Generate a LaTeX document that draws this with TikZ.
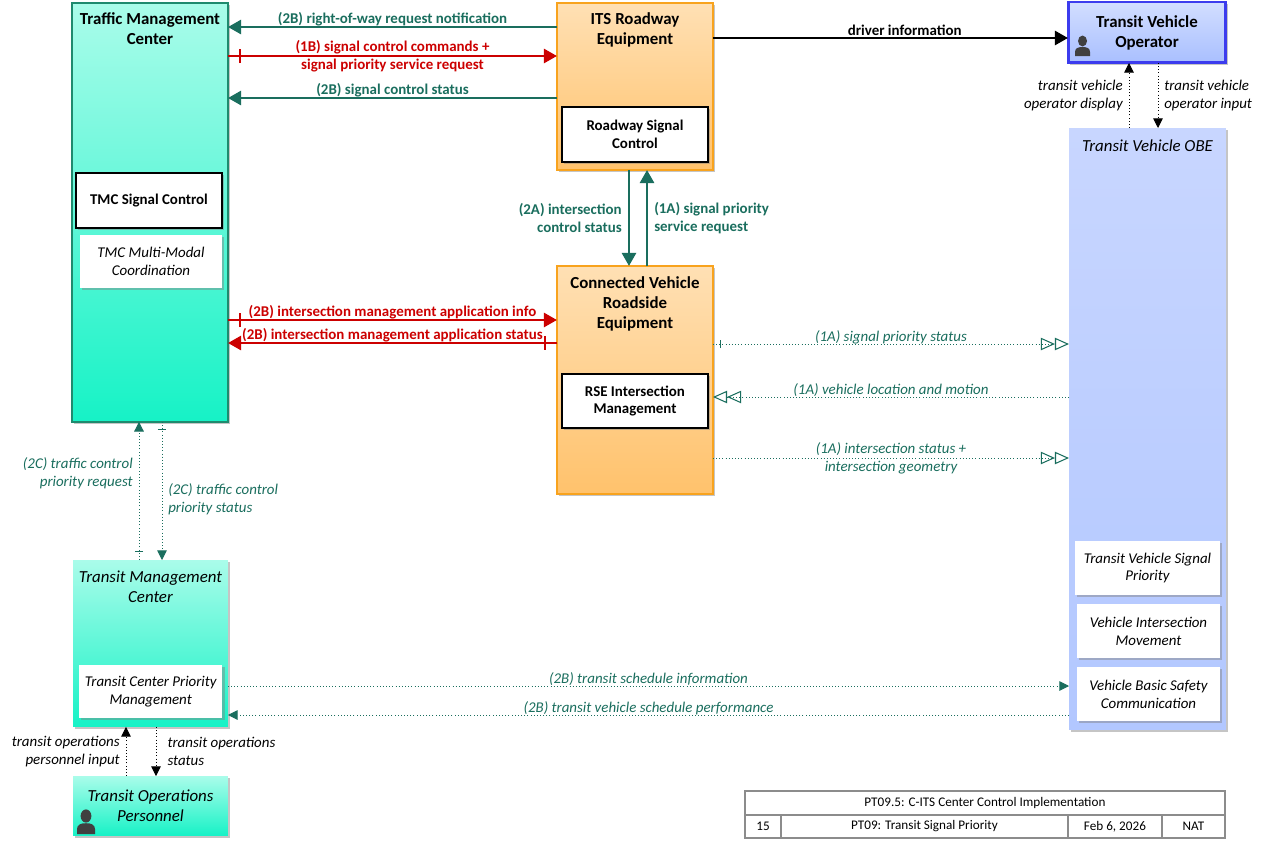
\documentclass[tikz,border=0pt]{standalone}
\usepackage{fontspec}
\setmainfont{Carlito}
\usetikzlibrary{positioning,arrows.meta,shadows,decorations.markings}

\definecolor{flowteal}{HTML}{1A6E5E}
\definecolor{flowred}{HTML}{CC0000}
\definecolor{aquatop}{HTML}{AAFCEA}
\definecolor{aquabot}{HTML}{16F2C6}
\definecolor{tmcline}{HTML}{1F8A6E}
\definecolor{orangetop}{HTML}{FFE0B4}
\definecolor{orangebot}{HTML}{FFC26C}
\definecolor{orangeline}{HTML}{F8A31E}
\definecolor{bluetop}{HTML}{D2DEFF}
\definecolor{bluebot}{HTML}{A9BFFF}
\definecolor{blueline}{HTML}{3C3CEE}
\definecolor{obetop}{HTML}{C8D6FF}
\definecolor{obebot}{HTML}{B2C7FF}

\newcommand{\boxfont}{\fontsize{9.6}{11.3}\selectfont}
\newcommand{\flowfont}{\fontsize{8.5}{10.2}\selectfont}

\begin{document}
\begin{tikzpicture}
[
x=0.02cm, y=-0.02cm,
boxshadow/.style={drop shadow={shadow xshift=1.3pt, shadow yshift=-1.3pt, fill=black!50, opacity=0.45}},
aquabox/.style={boxshadow, top color=aquatop, bottom color=aquabot, anchor=north west, outer sep=0},
tmcbox/.style={aquabox, draw=tmcline, line width=1.6pt},
orangebox/.style={boxshadow, top color=orangetop, bottom color=orangebot, draw=orangeline, line width=1.6pt, anchor=north west, outer sep=0},
operatorbox/.style={boxshadow, top color=bluetop, bottom color=bluebot, draw=blueline, line width=1.7pt, anchor=north west, outer sep=0, font=\boxfont\bfseries, align=center},
obebox/.style={boxshadow, top color=obetop, bottom color=obebot, anchor=north west, outer sep=0},
boxtitle/.style={align=center, inner sep=0},
ctrlbox/.style={boxshadow, fill=white, draw=black, line width=1.6pt, font=\flowfont\bfseries, align=center, anchor=north west, outer sep=0},
funcbox/.style={boxshadow, fill=white, font=\flowfont\itshape, align=center, anchor=north west, outer sep=0},
tbcell/.style={fill=white, draw=black!45, line width=0.7pt, font=\fontsize{7.5}{9}\selectfont, inner sep=0, outer sep=0},
bigflow/.style={line width=1.6pt, -{Triangle[length=7.5pt,width=8pt]}},
tealflow/.style={bigflow, color=flowteal},
redflow/.style={bigflow, color=flowred},
flowlbl/.style={font=\flowfont\bfseries, align=center},
dotflow/.style={color=flowteal, line width=0.5pt, dash pattern=on 0.5pt off 1.3pt},
dotarrow/.style={dotflow, -{Triangle[length=5.5pt,width=5.5pt]}},
dotopen/.style={dotflow, -{Triangle[open,length=8pt,width=7pt,line width=0.6pt]Triangle[open,length=8pt,width=7pt,line width=0.6pt]}},
userflow/.style={black, line width=0.5pt, dash pattern=on 0.5pt off 1.3pt, -{Triangle[length=5.5pt,width=5.5pt]}},
dotlbl/.style={font=\flowfont\itshape},
startbar/.style 2 args={postaction={decorate, decoration={markings, mark=at position #1 with {\draw[-, solid] (0,-#2) -- (0,#2);}}}},
person icon/.pic={
  \fill[black!75] (0,-15) ellipse [x radius=4.5, y radius=5.5];
  \fill[black!75] (-7.5,0) -- (-7.5,-4) .. controls (-7.5,-8) and (-4,-9) .. (0,-9)
    .. controls (4,-9) and (7.5,-8) .. (7.5,-4) -- (7.5,0) -- cycle;
}
]
\useasboundingbox[fill=white] (0,0) rectangle (1261,842);

\node[tmcbox, minimum width=3.12cm, minimum height=8.38cm] (tmc) at (72,3) {};
\node[boxtitle, font=\boxfont\bfseries, below=5.5pt of tmc.north] (tmctitle) {Traffic Management\\Center};
\node[ctrlbox, minimum width=2.92cm, minimum height=1.10cm] (tmcsig) at (76,173) {TMC Signal Control};
\node[funcbox, minimum width=2.84cm, minimum height=1.06cm] (tmcmm) at (80,235) {TMC Multi-Modal\\Coordination};

\node[orangebox, minimum width=3.12cm, minimum height=3.34cm] (itsre) at (557,3) {};
\node[boxtitle, font=\boxfont\bfseries, below=5.5pt of itsre.north] (itstitle) {ITS Roadway\\Equipment};
\node[ctrlbox, minimum width=2.92cm, minimum height=1.10cm] (rsc) at (562,107) {Roadway Signal\\Control};

\node[orangebox, minimum width=3.12cm, minimum height=4.56cm] (cvrse) at (557,266) {};
\node[boxtitle, font=\boxfont\bfseries, below=6pt of cvrse.north] (cvtitle) {Connected Vehicle\\Roadside\\Equipment};
\node[ctrlbox, minimum width=2.92cm, minimum height=1.08cm] (rseim) at (562,374) {RSE Intersection\\Management};

\node[operatorbox, minimum width=3.16cm, minimum height=1.22cm] (tvo) at (1068,2) {Transit Vehicle\\Operator};
\pic (tvoicon) at (1082.5,56) {person icon};

\node[obebox, minimum width=3.14cm, minimum height=12.04cm] (obe) at (1069,128) {};
\node[boxtitle, font=\boxfont\itshape, below=6.5pt of obe.north] (obetitle) {Transit Vehicle OBE};
\node[funcbox, minimum width=2.90cm, minimum height=1.08cm] (tvsp) at (1075,541) {Transit Vehicle Signal\\Priority};
\node[funcbox, minimum width=2.86cm, minimum height=1.08cm] (vim) at (1077,604) {Vehicle Intersection\\Movement};
\node[funcbox, minimum width=2.86cm, minimum height=1.08cm] (vbsc) at (1077,667) {Vehicle Basic Safety\\Communication};

\node[aquabox, minimum width=3.10cm, minimum height=3.34cm] (tranmc) at (73,560) {};
\node[boxtitle, font=\boxfont\itshape, below=6pt of tranmc.north] (tranmctitle) {Transit Management\\Center};
\node[funcbox, minimum width=2.86cm, minimum height=1.06cm] (tcpm) at (79,665) {Transit Center Priority\\Management};

\node[aquabox, minimum width=3.10cm, minimum height=1.20cm, font=\boxfont\itshape, align=center] (topers) at (73,776) {Transit Operations\\Personnel};
\pic[scale=1.2] (topicon) at (86,834) {person icon};

\draw[tealflow] (itsre.west |- 0,27) -- node[flowlbl, above, inner sep=0pt] {(2B) right-of-way request notification} (tmc.east |- 0,27);
\draw[redflow, startbar={6.8pt}{4pt}] (tmc.east |- 0,56) -- node[flowlbl] {(1B) signal control commands +\\signal priority service request} (itsre.west |- 0,56);
\draw[tealflow] (itsre.west |- 0,98) -- node[flowlbl, above, inner sep=0pt] {(2B) signal control status} (tmc.east |- 0,98);
\draw[bigflow, black] (itsre.east |- 0,38) -- node[flowlbl, above, pos=0.54, inner sep=0.5pt] {driver information} (tvo.west |- 0,38);

\draw[tealflow] (itsre.south -| 629,0) -- node[flowlbl, left, align=right] {(2A) intersection\\control status} (cvrse.north -| 629,0);
\draw[tealflow] (cvrse.north -| 647,0) -- node[flowlbl, right, align=left] {(1A) signal priority\\service request} (itsre.south -| 647,0);

\draw[redflow, startbar={6.8pt}{4pt}] (tmc.east |- 0,320) -- node[flowlbl, above, inner sep=0pt] {(2B) intersection management application info} (cvrse.west |- 0,320);
\draw[redflow, startbar={6.8pt}{4pt}] (cvrse.west |- 0,343) -- node[flowlbl, above, inner sep=0pt] {(2B) intersection management application status} (tmc.east |- 0,343);

\draw[dotopen, startbar={4pt}{2.3pt}] (cvrse.east |- 0,344) -- node[dotlbl, above, inner sep=0pt] {(1A) signal priority status} (obe.west |- 0,344);
\draw[dotopen] (obe.west |- 0,397) -- node[dotlbl, above, inner sep=0pt] {(1A) vehicle location and motion} (cvrse.east |- 0,397);
\draw[dotopen] (cvrse.east |- 0,458) -- node[dotlbl, align=center] {(1A) intersection status +\\intersection geometry} (obe.west |- 0,458);

\draw[dotarrow, startbar={5pt}{2.3pt}] (tranmc.north -| 139,0) -- node[dotlbl, left, align=right, pos=0.63] {(2C) traffic control\\priority request} (tmc.south -| 139,0);
\draw[dotarrow, startbar={4.5pt}{2.3pt}] (tmc.south -| 162,0) -- node[dotlbl, right, align=left, pos=0.56] {(2C) traffic control\\priority status} (tranmc.north -| 162,0);

\draw[dotarrow] (tranmc.east |- 0,686) -- node[dotlbl, above, inner sep=0pt] {(2B) transit schedule information} (obe.west |- 0,686);
\draw[dotarrow] (obe.west |- 0,715) -- node[dotlbl, above, inner sep=0pt] {(2B) transit vehicle schedule performance} (tranmc.east |- 0,715);

\draw[userflow] (obe.north -| 1129,0) -- node[dotlbl, left, align=right] {transit vehicle\\operator display} (tvo.south -| 1129,0);
\draw[userflow] (tvo.south -| 1158,0) -- node[dotlbl, right, align=left] {transit vehicle\\operator input} (obe.north -| 1158,0);
\draw[userflow] (topers.north -| 126,0) -- node[dotlbl, left, align=right] {transit operations\\personnel input} (tranmc.south -| 126,0);
\draw[userflow] (tranmc.south -| 156,0) -- node[dotlbl, right, align=left, xshift=3pt] {transit operations\\status} (topers.north -| 156,0);

\node[tbcell, anchor=north west, minimum width=9.6cm, minimum height=0.48cm] (tbtitle) at (745,791) {PT09.5: C-ITS Center Control Implementation};
\node[tbcell, anchor=north west, minimum width=0.72cm, minimum height=0.46cm] (tbpage) at (745,815) {15};
\node[tbcell, minimum width=5.74cm, minimum height=0.46cm, right=0pt of tbpage] (tbpack) {PT09: Transit Signal Priority};
\node[tbcell, minimum width=1.88cm, minimum height=0.46cm, right=0pt of tbpack] (tbdate) {Feb 6, 2026};
\node[tbcell, minimum width=1.26cm, minimum height=0.46cm, right=0pt of tbdate] (tbauthor) {NAT};
\end{tikzpicture}
\end{document}
